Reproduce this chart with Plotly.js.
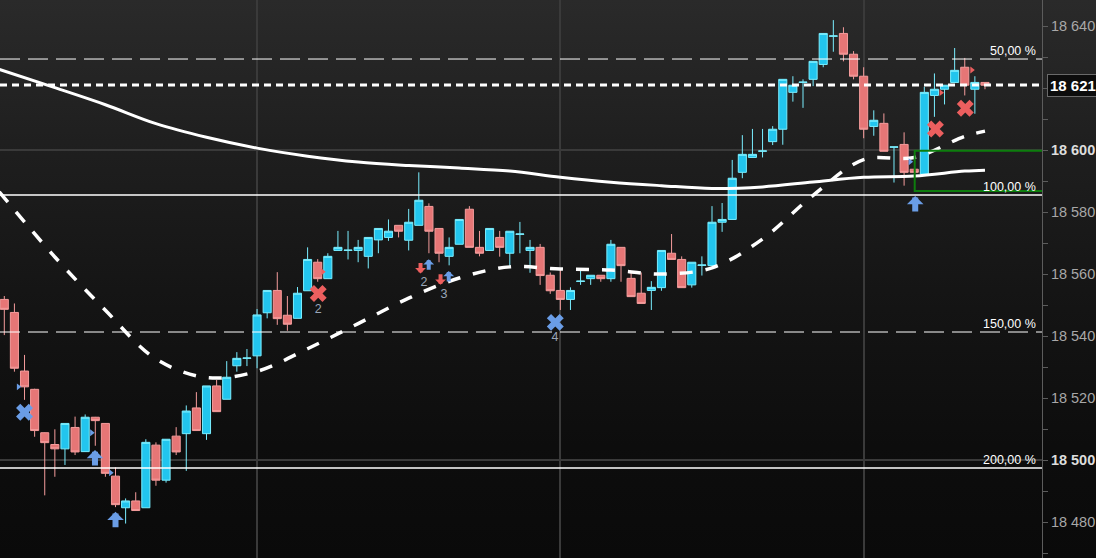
<!DOCTYPE html>
<html><head><meta charset="utf-8">
<script src="https://cdn.plot.ly/plotly-3.0.1.min.js"></script>
<style>
html,body{margin:0;padding:0;}
body{width:1096px;height:558px;overflow:hidden;background:linear-gradient(to bottom,#2a2a2a 0%,#1e1e1e 28%,#151515 52%,#0d0d0d 80%,#0a0a0a 100%);}
#chart{width:1096px;height:558px;}
</style></head><body><div id="chart"></div>
<script>
// ---- candle data (index 0..97) ----
const openP = [18551.8,18547.6,18528.7,18522.8,18508.8,18505.0,18503.6,18510.5,18502.7,18513.8,
18511.8,18494.8,18484.6,18486.8,18484.6,18504.8,18493.5,18507.7,18508.5,18516.8,
18508.5,18523.9,18519.6,18530.4,18532.8,18533.6,18547.5,18554.7,18546.7,18545.7,
18554.6,18563.8,18558.5,18567.6,18567.6,18567.6,18565.7,18571.0,18571.8,18575.7,
18570.9,18575.7,18581.8,18574.7,18565.7,18569.6,18580.9,18568.6,18567.6,18571.8,
18566.7,18572.8,18567.6,18568.6,18559.6,18554.7,18551.8,18557.6,18558.5,18559.6,
18558.5,18568.6,18558.6,18553.8,18554.7,18555.6,18566.7,18564.7,18556.5,18562.8,
18562.7,18576.7,18577.6,18592.8,18597.6,18599.6,18602.7,18606.7,18618.6,18621.8,
18622.8,18627.6,18636.7,18637.6,18630.9,18623.8,18607.6,18608.6,18600.9,18601.8,
18593.8,18592.2,18617.6,18619.6,18621.8,18626.7,18619.6,18621.8];
const highP = [18552.9,18550.5,18533.9,18523.0,18508.9,18509.9,18511.8,18514.0,18514.7,18513.9,
18511.9,18497.6,18487.6,18489.6,18506.7,18505.7,18506.7,18510.6,18517.6,18521.9,
18523.9,18525.8,18531.9,18534.8,18535.8,18548.7,18554.7,18560.6,18552.9,18555.8,
18568.6,18564.8,18566.7,18573.9,18573.9,18571.0,18571.8,18574.7,18577.6,18575.7,
18581.0,18592.8,18582.8,18574.7,18571.8,18577.6,18581.9,18573.9,18574.7,18573.9,
18573.8,18576.8,18571.0,18569.7,18560.5,18561.8,18555.7,18561.8,18559.6,18559.6,
18571.0,18568.6,18560.5,18560.5,18557.7,18567.6,18572.9,18565.7,18563.8,18565.7,
18581.9,18582.9,18596.8,18604.8,18606.8,18606.8,18607.7,18622.8,18623.8,18622.8,
18628.6,18637.6,18641.9,18639.6,18631.9,18626.7,18612.8,18611.8,18601.0,18605.7,
18593.8,18620.4,18624.7,18620.9,18632.9,18629.7,18623.8,18621.8];
const lowP = [18540.3,18528.5,18519.4,18507.5,18488.6,18494.6,18498.4,18501.6,18502.7,18504.6,
18494.6,18484.8,18479.5,18483.7,18484.6,18491.7,18492.7,18501.6,18496.5,18509.5,
18506.5,18515.6,18519.6,18528.5,18530.3,18529.6,18545.7,18543.6,18541.7,18545.7,
18554.6,18557.5,18558.5,18567.6,18564.7,18563.8,18561.8,18566.7,18570.7,18571.8,
18567.6,18575.7,18566.7,18563.8,18562.8,18569.6,18568.6,18565.7,18567.6,18565.6,
18562.4,18566.7,18560.4,18556.5,18553.6,18548.4,18548.4,18556.5,18556.5,18557.5,
18557.5,18557.5,18552.7,18550.5,18548.4,18554.6,18564.7,18555.6,18555.6,18559.5,
18562.7,18573.6,18577.6,18590.9,18597.6,18597.6,18601.6,18601.7,18615.6,18613.6,
18620.6,18626.7,18631.7,18628.6,18622.8,18603.8,18604.6,18599.6,18589.5,18588.5,
18592.8,18592.2,18610.7,18614.7,18621.8,18617.6,18611.7,18619.6];
const closeP = [18548.6,18529.6,18523.6,18509.5,18505.6,18503.6,18511.8,18502.6,18513.8,18512.7,
18495.7,18485.6,18486.8,18483.7,18505.7,18493.5,18506.7,18502.6,18515.8,18509.5,
18523.9,18515.6,18526.7,18532.8,18532.9,18546.8,18554.7,18545.6,18543.8,18553.8,
18564.7,18558.5,18565.7,18568.6,18567.7,18568.6,18571.8,18574.7,18573.8,18573.8,
18576.7,18583.8,18573.8,18566.7,18568.6,18577.6,18568.6,18566.7,18574.7,18568.6,
18573.8,18572.9,18568.6,18559.5,18554.6,18551.8,18554.7,18557.7,18559.6,18558.5,
18569.6,18562.7,18552.7,18550.5,18555.7,18567.6,18564.7,18555.6,18563.8,18562.9,
18576.7,18577.6,18590.9,18598.6,18598.6,18599.7,18606.7,18622.8,18620.9,18621.9,
18628.6,18637.6,18636.8,18630.9,18623.8,18606.7,18609.6,18599.6,18601.0,18592.8,
18592.8,18618.6,18619.6,18620.9,18625.7,18620.9,18621.8,18620.9];

// ---- moving averages (read every 5 candles) ----
const maIdx   = [-0.5,5,10,15,20,25,30,35,40,45,50,55,60,65,70,75,80,85,90,95,97];
const maLong  = [18626.0,18620.1,18614.6,18608.5,18604.1,18600.6,18598.0,18596.1,18595.0,18594.2,18593.2,
                 18591.2,18589.6,18588.5,18587.6,18588.1,18589.7,18591.2,18591.6,18593.2,18593.5];
const maShort = [18586.5,18565.5,18548.3,18532.6,18526.6,18528.6,18535.9,18544.0,18552.2,18558.7,18562.3,
                 18561.6,18561.3,18560.0,18562.0,18571.3,18585.4,18596.9,18597.6,18604.4,18606.1];

// ---- levels ----
const fibLevels = [18629.35, 18585.48, 18541.29, 18497.42];
const fibLabels = ['50,00 %','100,00 %','150,00 %','200,00 %'];
const fibDashed = [true, false, true, false];
const gridLevels = [18500, 18600];
const lastPrice = 18621;
const lastPriceLine = 18620.95;
const zoneIdx = [90.05, 104];
const zoneVal = [18586.8, 18599.8];

// ---- signal markers ----
const blueXIdx = [2, 54.5];            const blueXVal = [18515.4, 18544.4];
const redXIdx = [31.05, 92.1, 95.05];  const redXVal = [18553.7, 18606.8, 18613.5];
// arrow tips
const bigUpIdx = [8.97, 11.0, 90.1];   const bigUpTip = [18503.2, 18483.3, 18585.2];
const smallUpIdx = [41.98, 43.96];     const smallUpTip = [18564.8, 18561.0];
const smallDnIdx = [41.17, 43.15];     const smallDnTip = [18560.2, 18556.5];
const numIdx = [31.06, 41.51, 43.49, 54.47]; const numVal = [18548.4, 18557.1, 18553.3, 18539.4];
const numText = ['2','2','3','4'];
const blueTriIdx = [1.39, 8.64, 10.52, 89.6]; const blueTriVal = [18523.6, 18508.8, 18495.9, 18596.2];
const redTriIdx = [31.5, 92.65, 95.7];        const redTriVal = [18560.7, 18618.5, 18625.8];

// ---- axis ticks ----
const yLabelVals = [18480,18500,18520,18540,18560,18580,18600,18640];
const yMinorStep = 10;

function fmt(v){ const s = String(Math.round(v)); return s.slice(0, s.length-3) + ' ' + s.slice(-3); }

const tickVals = [], tickText = [];
for (let v = 18470; v <= 18640; v += yMinorStep) {
  tickVals.push(v);
  if (yLabelVals.includes(v)) {
    tickText.push(gridLevels.includes(v) ? '<b><span style="fill:#dddddd">' + fmt(v) + '</span></b>' : fmt(v));
  } else tickText.push('');
}

const candleIdx = openP.map((_, i) => i);
const BLUE = '#6a9de6', RED = '#ec5f5f';

const traces = [
  {type:'candlestick', x:candleIdx, open:openP, high:highP, low:lowP, close:closeP,
   increasing:{fillcolor:'#22c5ee', line:{color:'#7aeeff', width:1}},
   decreasing:{fillcolor:'#e67676', line:{color:'#f59c9c', width:1}},
   whiskerwidth:0, hoverinfo:'skip', showlegend:false},
  {type:'scatter', mode:'lines', x:maIdx, y:maLong, line:{color:'#ffffff', width:3, shape:'spline'}, hoverinfo:'skip', showlegend:false},
  {type:'scatter', mode:'lines', x:maIdx, y:maShort, line:{color:'#ffffff', width:3.5, dash:'13px,13px', shape:'spline'}, hoverinfo:'skip', showlegend:false},
  {type:'scatter', mode:'markers', x:blueTriIdx, y:blueTriVal, marker:{symbol:'triangle-right', size:6, color:BLUE}, hoverinfo:'skip', showlegend:false},
  {type:'scatter', mode:'markers', x:redTriIdx, y:redTriVal, marker:{symbol:'triangle-right', size:6, color:RED}, hoverinfo:'skip', showlegend:false},
  {type:'scatter', mode:'markers', x:blueXIdx, y:blueXVal, marker:{symbol:'x', size:15, color:BLUE, line:{width:0}}, hoverinfo:'skip', showlegend:false},
  {type:'scatter', mode:'markers', x:redXIdx, y:redXVal, marker:{symbol:'x', size:15, color:RED, line:{width:0}}, hoverinfo:'skip', showlegend:false},
  {type:'scatter', mode:'text', x:numIdx, y:numVal, text:numText, textposition:'middle center',
   textfont:{family:'Liberation Sans, Arial', size:12.5, color:'#9aa6b8'}, hoverinfo:'skip', showlegend:false}
];

const shapes = [];
gridLevels.forEach(v => shapes.push({type:'line', xref:'paper', x0:0, x1:1, yref:'y', y0:v, y1:v, layer:'below',
  line:{color:'#3a3a3a', width:2}}));
fibLevels.forEach((v, k) => shapes.push({type:'line', xref:'paper', x0:0, x1:1, yref:'y', y0:v, y1:v, layer:'above',
  line:{color:'#ffffff', width:fibDashed[k] ? 1 : 1.5, dash: fibDashed[k] ? '20px,8px' : 'solid'}}));
shapes.push({type:'line', xref:'paper', x0:0, x1:1, yref:'y', y0:lastPriceLine, y1:lastPriceLine, layer:'above',
  line:{color:'#ffffff', width:3, dash:'7px,5px'}});
shapes.push({type:'rect', xref:'x', x0:zoneIdx[0], x1:zoneIdx[1], yref:'y', y0:zoneVal[0], y1:zoneVal[1], layer:'above',
  line:{color:'#0d7d0d', width:2}, fillcolor:'rgba(0,0,0,0)'});

const annotations = fibLevels.map((v, k) => ({xref:'paper', x:0.9965, xanchor:'right', yref:'y', y:v, yanchor:'middle',
  yshift:8.5, text:fibLabels[k], showarrow:false, font:{family:'Liberation Sans, Arial', size:12.5, color:'#ffffff'}}));
annotations.push({xref:'paper', x:1, xanchor:'left', xshift:5, yref:'y', y:lastPriceLine, yanchor:'middle',
  text:'<b>' + fmt(lastPrice) + '</b>', showarrow:false, font:{family:'Liberation Sans, Arial', size:15, color:'#ffffff'},
  bgcolor:'#0c0c0c', bordercolor:'#6a6a6a', borderwidth:1, borderpad:2});

function arrowAnn(xi, yv, up, big, color){
  return {xref:'x', yref:'y', x:xi, y:yv, text:'', showarrow:true, arrowhead:1,
    arrowwidth: big ? 6 : 4, arrowsize: big ? 0.46 : 0.45, arrowcolor:color,
    ax:0, ay: (up ? 1 : -1) * (big ? 17 : 12), standoff:0, startstandoff:0};
}
bigUpIdx.forEach((xi, k) => annotations.push(arrowAnn(xi, bigUpTip[k], true, true, BLUE)));
smallUpIdx.forEach((xi, k) => annotations.push(arrowAnn(xi, smallUpTip[k], true, false, BLUE)));
smallDnIdx.forEach((xi, k) => annotations.push(arrowAnn(xi, smallDnTip[k], false, false, RED)));

const layout = {
  width:1096, height:558,
  margin:{l:0, r:54, t:0, b:0, pad:0},
  paper_bgcolor:'rgba(0,0,0,0)', plot_bgcolor:'rgba(0,0,0,0)',
  showlegend:false, hovermode:false, dragmode:false,
  boxgap:0.2, boxgroupgap:0,
  xaxis:{range:[-0.425, 102.64], showgrid:true, gridcolor:'#3a3a3a', gridwidth:2, tickmode:'linear', tick0:25, dtick:30,
         showticklabels:false, ticks:'', zeroline:false, showline:false, rangeslider:{visible:false}, fixedrange:true},
  yaxis:{side:'right', range:[18468.39, 18648.39], showgrid:false, zeroline:false, showline:true, linecolor:'#5c5c5c', linewidth:1,
         ticks:'outside', ticklen:5, tickcolor:'#5c5c5c', tickwidth:1, tickmode:'array', tickvals:tickVals, ticktext:tickText,
         tickfont:{family:'Liberation Sans, Arial', size:14.5, color:'#a8a8a8'}, fixedrange:true},
  shapes:shapes, annotations:annotations
};

Plotly.newPlot('chart', traces, layout, {displayModeBar:false, staticPlot:true});
</script></body></html>
